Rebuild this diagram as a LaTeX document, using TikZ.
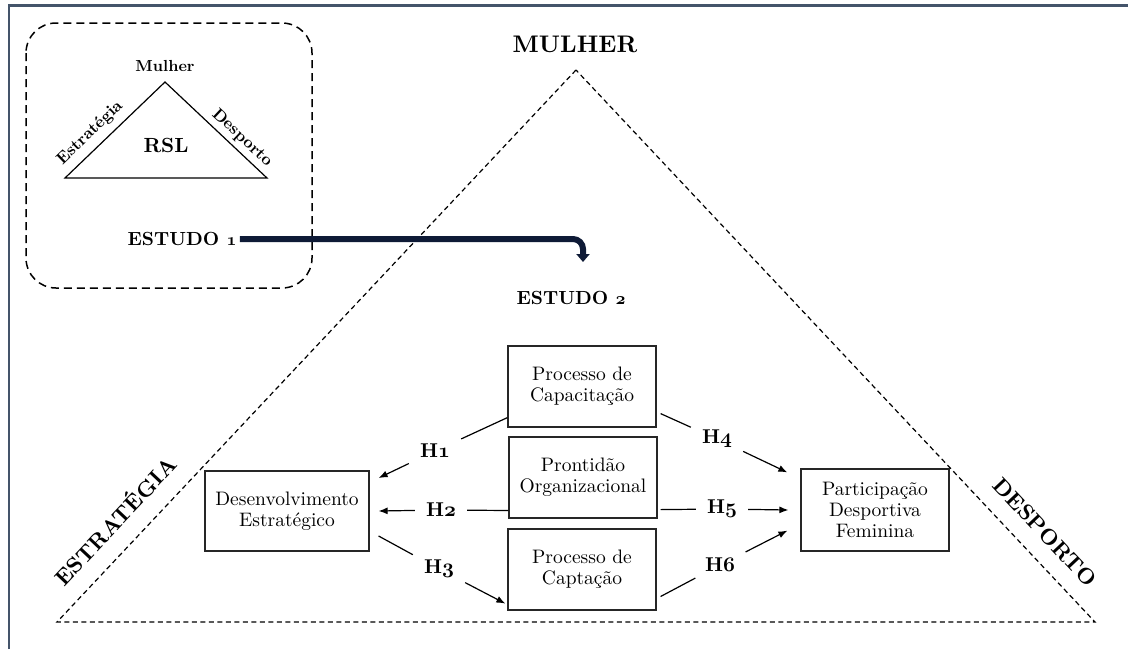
\documentclass[tikz,border=0pt]{standalone}
\usepackage{fontspec}
\setmainfont{lmroman10}[Extension=.otf, UprightFont=*-regular, BoldFont=*-bold,
  ItalicFont=*-italic, BoldItalicFont=*-bolditalic]
\usepackage{tikz}
\usetikzlibrary{arrows.meta,positioning,calc}
\definecolor{framec}{HTML}{44546A}
\definecolor{navy}{HTML}{0E1A36}
\newcommand{\osn}[1]{{\fontencoding{OML}\fontfamily{cmm}\fontseries{b}\fontshape{it}\selectfont #1}}
\tikzset{
  box/.style={draw=black!85, line width=1.2pt, align=center, font=\fontsize{19.5}{21}\selectfont,
              minimum width=148pt, minimum height=81pt, inner sep=2pt},
  hlabel/.style={font=\fontsize{20}{22}\selectfont\bfseries, inner xsep=11pt, inner ysep=6pt},
  hyp/.style={-{Latex[length=9pt,width=7pt]}, line width=1.2pt},
  tri/.style={dash pattern=on 5pt off 3.5pt, line width=1.2pt},
  sidelbl/.style={font=\fontsize{22}{24}\selectfont\bfseries},
  study/.style={font=\fontsize{19}{21}\selectfont\bfseries},
  minorlbl/.style={font=\fontsize{16.5}{19}\selectfont\bfseries},
  bigarrow/.style={-{Triangle[length=8pt,width=13pt]}, line width=6pt, draw=navy, rounded corners=10pt},
}
\def\xL{287}
\def\xM{582}
\def\xR{875}

\begin{document}
\begin{tikzpicture}[x=1pt,y=-1pt]
  \fill[white] (0,0) rectangle (1128,649);
  \useasboundingbox (0,0) rectangle (1128,649);
  \draw[framec, line width=2.5pt] (9,649) -- (9,5.5) -- (1128,5.5);
  % estudo 1: revisao
  \draw[dash pattern=on 8pt off 5pt, line width=1.5pt, rounded corners=30pt] (26,23) rectangle (312,288);
  \coordinate (mA) at (165,82);
  \coordinate (mB) at (65,178);
  \coordinate (mC) at (267,178);
  \draw[line width=1.2pt] (mA) -- (mB) -- (mC) -- cycle;
  \node[minorlbl, font=\fontsize{16}{18}\selectfont\bfseries] (mulher) at (165,66) {Mulher};
  \node[font=\fontsize{20.5}{22}\selectfont\bfseries] (rsl) at (166,145) {RSL};
  \node[minorlbl, rotate=44] (estrS) at (90,133) {Estratégia};
  \node[minorlbl, rotate=-43] (despS) at (242,138) {Desporto};
  \node[study] (est1) at (182,239) {ESTUDO \osn{1}};
  % estudo 2: modelo
  \coordinate (tA) at (576,70);
  \coordinate (tB) at (57,622);
  \coordinate (tC) at (1095,622);
  \draw[tri] (tA) -- (tB) -- (tC) -- cycle;
  \node[sidelbl, font=\fontsize{24}{26}\selectfont\bfseries] (mulherB) at (575,44) {MULHER};
  \node[sidelbl, rotate=46.8] (estr) at (114,520) {ESTRATÉGIA};
  \node[sidelbl, rotate=-46.8] (desp) at (1045,532) {DESPORTO};
  \node[study] (est2) at (571,298) {ESTUDO \osn{2}};
  \coordinate (drop) at (583,262);
  \draw[bigarrow] (est1.east) -- (est1.east -| drop) -- (drop);
  \node[box, minimum width=164pt, minimum height=80pt] (des) at (\xL,511) {Desenvolvimento\\Estratégico};
  \node[box] (cap) at (\xM,386.5) {Processo de\\Capacitação};
  \node[box] (pront) at (583,477.5) {Prontidão\\Organizacional};
  \node[box] (capt) at (\xM,569.5) {Processo de\\Captação};
  \node[box, minimum height=82pt] (part) at (\xR,510) {Participação\\Desportiva\\Feminina};
  \node[hlabel] (h1) at (435,451) {H\osn{1}};
  \node[hlabel] (h2) at (441,510) {H\osn{2}};
  \node[hlabel] (h3) at (439,569) {H\osn{3}};
  \node[hlabel] (h4) at (717,439) {H\osn{4}};
  \node[hlabel] (h5) at (722,509) {H\osn{5}};
  \node[hlabel] (h6) at (720,565) {H\osn{6}};
  \draw[hyp] ([yshift=10pt]cap.south west) -- (h1) -- ([xshift=9pt,yshift=33pt]des.east);
  \draw[hyp] ([yshift=-33pt]pront.west) -- (h2) -- ([xshift=9pt]des.east);
  \draw[hyp] ([xshift=9pt,yshift=-25pt]des.east) -- (h3) -- ([xshift=-2pt,yshift=7pt]capt.south west);
  \draw[hyp] ([xshift=4pt,yshift=14pt]cap.south east) -- (h4) -- ([xshift=-13pt,yshift=-4pt]part.north west);
  \draw[hyp] ([xshift=3pt,yshift=9pt]pront.south east) -- (h5) -- ([xshift=-12pt]part.west);
  \draw[hyp] ([xshift=4pt,yshift=-27pt]capt.east) -- (h6) -- ([xshift=-13pt,yshift=21pt]part.south west);
\end{tikzpicture}
\end{document}
